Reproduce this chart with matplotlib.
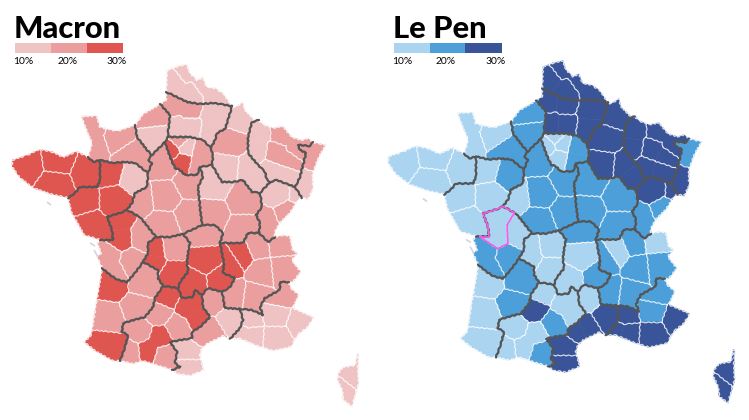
import numpy as np
import matplotlib
matplotlib.use("Agg")
import matplotlib.pyplot as plt
from matplotlib.collections import LineCollection
from matplotlib.path import Path
from matplotlib.patches import Polygon, Rectangle

# map geometry, in pixels of the left map
# coast and land border, clockwise
arcs = {
    "c_npc": [(166,92),(167,70),(178,66),(187,64),(190,73),(197,80),(203,77),(207,87),(215,88),(223,93),(228,100),(232,106)],
    "c_cha": [(232,106),(235,107),(243,102),(245,110),(255,120),(259,120)],
    "c_lor": [(259,120),(263,124),(273,128),(283,126),(292,137),(302,140),(308,138),(313,142)],
    "c_als": [(313,142),(326,145),(319,157),(313,173),(313,190),(308,200),(302,198)],
    "c_frc": [(302,198),(298,200),(290,213),(280,223),(275,232),(275,237)],
    "c_rha": [(275,237),(283,235),(290,236),(293,250),(298,253),(292,260),(301,272),(293,282),(289,282)],
    "c_pac": [(289,282),(291,288),(299,295),(293,308),(314,317),(308,327),(298,335),(291,347),(273,351),(257,346),(240,339),(230,339)],
    "c_lro": [(230,339),(223,336),(207,344),(202,349),(200,355),(204,370),(190,376),(177,374),(172,370)],
    "c_mpy": [(172,370),(143,361),(133,364),(120,361)],
    "c_aqu": [(120,361),(113,361),(95,351),(84,342),(91,335),(96,303),(99,287),(102,268)],
    "c_pch": [(102,268),(97,257),(101,253),(97,243),(100,240)],
    "c_pdl": [(100,240),(84,235),(71,212),(68,198)],
    "c_bre": [(68,198),(50,194),(33,188),(20,178),(12,167),(12,160),(27,155),(40,149),(53,152),(63,157),(77,151),(88,157)],
    "c_bno": [(88,157),(92,143),(87,132),(81,116),(97,116),(100,127),(117,131),(135,125)],
    "c_hno": [(135,125),(143,114),(160,104)],
    "c_pic": [(160,104),(166,100),(166,92)],
    # borders between regions
    "np": [(166,92),(177,97),(187,102),(200,104),(213,103),(232,106)],
    "pc": [(232,106),(228,120),(225,129),(217,133),(215,140),(211,148)],
    "pi": [(211,148),(203,140),(190,137),(180,137),(168,137)],
    "ph": [(168,137),(168,133),(170,115),(160,104)],
    "ic": [(211,148),(213,157),(212,165)],
    "ib": [(212,165),(200,167)],
    "ie": [(200,167),(197,175),(185,175),(180,170),(175,168),(170,157),(165,142)],
    "ih": [(165,142),(168,137)],
    "hn": [(165,142),(152,155)],
    "hb": [(135,125),(137,137),(147,150),(152,155)],
    "bc": [(152,155),(148,160),(152,163),(148,173)],
    "bp": [(148,173),(135,163),(125,162),(112,163),(100,160)],
    "bb": [(88,157),(93,162),(100,160)],
    "rp": [(100,160),(100,180),(97,187),(80,187),(75,193),(68,198)],
    "pe": [(148,173),(147,187),(135,193),(132,203),(127,210)],
    "po": [(127,210),(120,213),(107,217),(112,230),(113,240),(100,240)],
    "oe": [(127,210),(140,217),(148,227),(156,237)],
    "el": [(156,237),(170,237),(183,234)],
    "ea": [(183,234),(202,225)],
    "eo": [(200,167),(203,177),(198,187),(200,207),(202,225)],
    "ol": [(156,237),(148,243),(148,253),(143,262)],
    "oq": [(143,262),(135,273),(127,282),(118,280),(110,275),(102,268)],
    "lq": [(143,262),(158,270),(158,278),(163,286)],
    "lm": [(163,286),(178,288)],
    "la": [(183,234),(190,243),(188,253),(187,262),(188,272),(180,282),(178,288)],
    "am": [(178,288),(182,298),(193,297),(195,290),(202,295)],
    "at": [(202,295),(208,288),(222,292)],
    "ar": [(220,243),(224,263),(223,273),(235,278),(230,287),(222,292)],
    "ab": [(202,225),(215,225),(223,233),(220,243)],
    "br": [(220,243),(235,243),(243,243),(248,233),(259,233)],
    "bf": [(260,193),(262,207),(256,215),(260,223),(259,233)],
    "bh": [(212,165),(222,182),(233,182),(243,180),(252,192),(260,193)],
    "cf": [(260,193),(270,182)],
    "cl": [(259,120),(252,122),(248,137),(248,153),(258,165),(265,172),(267,180),(270,182)],
    "lf": [(270,182),(277,180),(287,184),(295,187)],
    "ll": [(313,142),(310,146),(298,145),(300,150),(306,153),(303,165),(300,177),(295,187)],
    "af": [(295,187),(302,198)],
    "fr": [(259,233),(268,242),(275,237)],
    "rl": [(222,292),(225,308),(240,309)],
    "rh": [(240,309),(252,310),(263,315),(260,307),(265,298),(280,290),(280,282),(289,282)],
    "tp": [(240,309),(243,320),(240,328),(230,339)],
    "mt": [(202,295),(203,307),(210,317),(200,327),(192,332),(192,338),(170,342),(177,352),(175,363),(180,367),(172,370)],
    "mq": [(163,286),(155,298),(153,307),(145,317),(123,323),(122,332),(128,335),(125,347),(120,361)],
}

# a leading minus walks the arc backwards
region_rings = {
    "NPC": ["c_npc","-np"],
    "PIC": ["np","pc","pi","ph","c_pic"],
    "HNO": ["c_hno","-ph","-ih","hn","-hb"],
    "BNO": ["c_bno","hb","bc","bp","-bb"],
    "BRE": ["c_bre","bb","rp"],
    "PDL": ["c_pdl","-rp","-bp","pe","po"],
    "CEN": ["-hn","-ie","eo","-ea","-el","-oe","-pe","-bc"],
    "IDF": ["-pi","ic","ib","ie","ih"],
    "CHA": ["c_cha","cl","-cf","-bh","-ic","-pc"],
    "LOR": ["c_lor","ll","-lf","-cl"],
    "ALS": ["c_als","-af","-ll"],
    "FRC": ["c_frc","-fr","-bf","cf","lf","af"],
    "BOU": ["-ib","bh","bf","-br","-ab","-eo"],
    "AUV": ["ea","ab","ar","-at","-am","-la"],
    "LIM": ["el","la","-lm","-lq","-ol"],
    "PCH": ["c_pch","-po","oe","ol","oq"],
    "AQU": ["c_aqu","-oq","lq","mq"],
    "MPY": ["c_mpy","-mq","lm","am","mt"],
    "LRO": ["c_lro","-mt","at","rl","tp"],
    "RHA": ["c_rha","-rh","-rl","-ar","br","fr"],
    "PAC": ["c_pac","-tp","rh"],
}
corsica = [(357,353),(355,365),(343,367),(338,373),(337,380),(342,390),(343,400),(352,407),(355,397),(359,383),(358,370),(359,354)]
island_marks = [[(47,202),(51,205)],[(90,243),(95,246)],[(94,250),(98,257)]]

depts = ["59","62","80","02","60","76","27","14","50","61","35","22","29","56","44","53","72","49","85",
         "79","17","86","16","37","41","28","45","36","18","58","89","21","71","10","51","08","52","55",
         "54","57","88","67","68","70","25","39","90","77","78","91","95","75","03","63","15","43","87",
         "23","19","42","69","07","26","38","01","74","73","05","04","06","83","13","84","30","48","34",
         "11","66","12","46","82","81","32","31","65","09","24","33","47","40","64","2B","2A"]

seeds = [[(187,70),(205,84),(215,95)],[(172,82),(190,95)],[(172,106),(190,108)],[(213,115),(212,130)],
         [(175,127),(190,127)],[(150,118)],[(152,136)],[(118,140)],[(92,125),(95,148)],[(128,155)],
         [(88,172)],[(58,160)],[(27,165)],[(55,185)],[(82,200)],[(110,172)],[(133,178)],[(115,200)],[(90,226)],
         [(118,222),(120,238)],[(108,256),(113,272)],[(143,237)],[(132,262)],[(140,200)],[(165,197)],[(163,163)],
         [(190,183)],[(163,225)],[(190,215)],[(213,214)],[(215,185)],[(243,200)],[(243,228)],[(226,168)],[(230,142)],
         [(238,118)],[(256,178),(250,170)],[(257,135),(256,150)],[(277,153),(290,160)],[(283,135),(297,150)],
         [(285,175),(270,172)],[(312,157)],[(303,182)],[(277,193)],[(288,213)],[(265,222)],[(300,193)],
         [(200,150),(198,165)],[(171,150)],[(183,162)],[(180,140)],[(187,147)],[(203,233)],[(205,260)],[(193,283)],
         [(221,281)],[(156,250),(155,262)],[(172,248)],[(172,272)],[(230,263)],[(242,255)],[(233,295)],[(255,298)],
         [(262,270)],[(258,248)],[(280,245)],[(282,268)],[(278,298)],[(275,313)],[(302,322)],[(275,338)],
         [(252,337),(240,335)],[(250,318)],[(228,320)],[(213,303)],[(212,330),(200,335)],[(190,350)],[(190,367)],
         [(190,308),(198,318)],[(165,296)],[(158,313)],[(178,328)],[(140,332)],[(160,338),(148,350)],[(130,352)],
         [(165,355)],[(143,283)],[(113,285)],[(137,307)],[(108,318)],[(105,345)],[(352,375)],[(341,389)]]

regions = ["NPC","NPC","PIC","PIC","PIC","HNO","HNO","BNO","BNO","BNO","BRE","BRE","BRE","BRE","PDL","PDL",
           "PDL","PDL","PDL","PCH","PCH","PCH","PCH","CEN","CEN","CEN","CEN","CEN","CEN","BOU","BOU","BOU",
           "BOU","CHA","CHA","CHA","CHA","LOR","LOR","LOR","LOR","ALS","ALS","FRC","FRC","FRC","FRC","IDF",
           "IDF","IDF","IDF","IDF","AUV","AUV","AUV","AUV","LIM","LIM","LIM","RHA","RHA","RHA","RHA","RHA",
           "RHA","RHA","RHA","PAC","PAC","PAC","PAC","PAC","PAC","LRO","LRO","LRO","LRO","LRO","MPY","MPY",
           "MPY","MPY","MPY","MPY","MPY","MPY","AQU","AQU","AQU","AQU","AQU","COR","COR"]

# colour class of each department, 0 / 1 / 2
macron = [0,0,1,0,0,1,0,1,1,1,2,2,2,2,2,2,0,2,2,2,1,1,1,1,1,1,1,1,1,1,0,1,1,0,1,0,0,0,1,1,0,1,0,0,1,1,0,
          1,2,2,1,0,1,2,2,2,2,1,2,2,2,1,1,1,1,1,1,1,0,0,0,0,0,0,1,1,0,0,2,2,1,1,1,2,1,1,1,2,1,1,2,0,0]
lepen = [2,2,2,2,2,1,1,0,0,1,0,0,0,0,0,0,1,0,0,0,1,0,1,0,1,1,1,1,1,1,1,1,1,2,2,2,2,2,2,2,2,1,2,2,1,1,2,
         1,0,0,0,0,1,0,0,1,0,0,0,1,0,1,1,1,1,0,1,1,1,2,2,2,2,2,0,2,2,2,0,0,2,1,0,0,0,1,1,0,1,0,0,2,2]

macron_colors = ["#EFC3C3", "#EA9E9E", "#DF5650"]
lepen_colors = ["#ABD4F0", "#4C9FD8", "#3A5499"]
tick_labels = ["10%", "20%", "30%"]
highlight = "79"
right_shift = np.array([376, -3.5])


def ring(names):
    pts = []
    for name in names:
        arc = arcs[name.lstrip("-")]
        pts += arc[::-1][:-1] if name.startswith("-") else arc[:-1]
    return pts


def clip(poly, a, b):
    # keep the side of the bisector of a and b that holds a
    mid = (a + b) / 2
    n = b - a
    out = []
    for i in range(len(poly)):
        p, q = poly[i], poly[(i + 1) % len(poly)]
        dp, dq = np.dot(p - mid, n), np.dot(q - mid, n)
        if dp <= 0:
            out.append(p)
        if dp * dq < 0:
            out.append(p + (q - p) * dp / (dp - dq))
    return out


outlines = {name: ring(names) for name, names in region_rings.items()}
outlines["COR"] = corsica

all_seeds = []
owner = []
for i, s in enumerate(seeds):
    for pt in s:
        all_seeds.append(np.array(pt, float))
        owner.append(i)

cells = []
white_lines = []
for k, s in enumerate(all_seeds):
    d = owner[k]
    outline = outlines[regions[d]]
    poly = [np.array(p, float) for p in outline]
    mates = [j for j in range(len(all_seeds)) if j != k and regions[owner[j]] == regions[d]]
    for j in mates:
        if poly:
            poly = clip(poly, s, all_seeds[j])
    cells.append(poly)
    shape = Path(outline)
    for i in range(len(poly)):
        p, q = poly[i], poly[(i + 1) % len(poly)]
        for j in mates:
            if owner[j] <= d:
                continue
            other = all_seeds[j]
            same_p = abs(np.linalg.norm(p - s) - np.linalg.norm(p - other)) < 1e-6
            same_q = abs(np.linalg.norm(q - s) - np.linalg.norm(q - other)) < 1e-6
            if same_p and same_q and shape.contains_point((p + q) / 2):
                white_lines.append((p, q))

dark_lines = [np.array(pts, float) for name, pts in arcs.items() if not name.startswith("c_")]
coast_lines = [np.array(pts, float) for name, pts in arcs.items() if name.startswith("c_")]
coast_lines.append(np.array(corsica + corsica[:1], float))


def draw_map(ax, values, colors, shift):
    for k, poly in enumerate(cells):
        if poly:
            c = colors[values[owner[k]]]
            ax.add_patch(Polygon(np.array(poly) + shift, closed=True, facecolor=c, edgecolor=c, lw=0.4))
    # frayed white rim along the coast
    rim = LineCollection([a + shift for a in coast_lines], colors="white", linewidths=1.0, alpha=0.8)
    rim.set_sketch_params(0.8, 5, 2)
    ax.add_collection(rim)
    white = LineCollection(np.array(white_lines) + shift, colors="white", linewidths=0.8, alpha=0.85,
                           capstyle="round")
    white.set_sketch_params(0.5, 6, 2)
    ax.add_collection(white)
    dark = LineCollection([a + shift for a in dark_lines], colors="#555555", linewidths=1.6, capstyle="round",
                          joinstyle="round")
    dark.set_sketch_params(0.5, 6, 2)
    ax.add_collection(dark)
    marks = LineCollection([np.array(m) + shift for m in island_marks], colors="#D5D5D5", linewidths=1.2)
    ax.add_collection(marks)


def draw_legend(ax, title, colors, x0, widths, label_x):
    ax.text(x0 - 1, 38, title, fontsize=22.2, family="Lato", fontweight="black", color="black", va="baseline")
    x = x0
    for c, w in zip(colors, widths):
        ax.add_patch(Rectangle((x, 43), w, 10, facecolor=c, edgecolor="none"))
        x += w
    for lab, lx in zip(tick_labels, label_x):
        ax.text(lx, 62, lab, fontsize=7.4, family="Lato", color="black", ha="center", va="center")


fig = plt.figure(figsize=(7.49, 4.2), dpi=100)
ax = fig.add_axes([0, 0, 1, 1])
ax.set_xlim(0, 749)
ax.set_ylim(420, 0)
ax.axis("off")

draw_map(ax, macron, macron_colors, np.array([0, 0]))
draw_map(ax, lepen, lepen_colors, right_shift)

# the department ringed in the right map
pink = [(p + right_shift, q + right_shift) for k, poly in enumerate(cells) if depts[owner[k]] == highlight
        for p, q in zip(poly, poly[1:] + poly[:1])
        if not any(depts[owner[j]] == highlight and j != k
                   and abs(np.linalg.norm(p - all_seeds[k]) - np.linalg.norm(p - all_seeds[j])) < 1e-6
                   and abs(np.linalg.norm(q - all_seeds[k]) - np.linalg.norm(q - all_seeds[j])) < 1e-6
                   for j in range(len(all_seeds)))]
ax.add_collection(LineCollection(pink, colors="#F45CE8", linewidths=1.2, capstyle="round"))

draw_legend(ax, "Macron", macron_colors, 15, [36, 36, 36], [23, 68, 117])
draw_legend(ax, "Le Pen", lepen_colors, 394, [36, 35, 37], [402, 446, 496])

plt.savefig("out.png", dpi=100)
